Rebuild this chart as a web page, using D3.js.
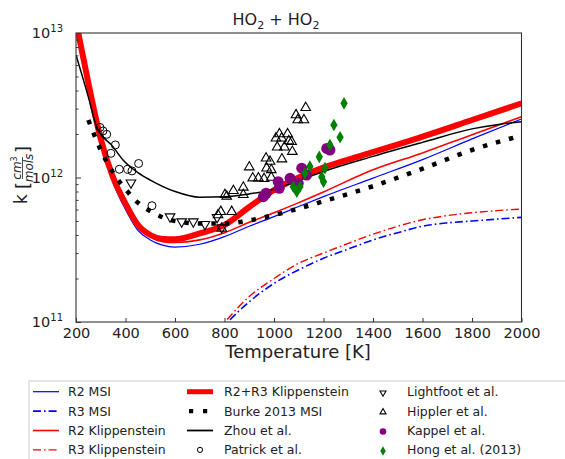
<!DOCTYPE html>
<html><head><meta charset="utf-8">
<script src="https://cdn.jsdelivr.net/npm/d3@7"></script>
<style>
body{margin:0;background:#fff}
svg{display:block}
text{font-family:"DejaVu Sans",sans-serif;fill:#222}
</style>
</head><body>
<svg id="c" width="565" height="459"></svg>
<script>
// ---------- data ----------
const xTickValues = [200,400,600,800,1000,1200,1400,1600,1800,2000];
const yMajorTicks = [1e11,1e12,1e13];
const yTickExponents = ["11","12","13"];

const r2msi = [[200,1.1e13],[250,4.3e12],[300,1.75e12],[350,9.2e11],[400,6.0e11],[450,4.3e11],[500,3.7e11],[550,3.4e11],[600,3.3e11],[700,3.45e11],[800,3.9e11],[900,4.6e11],[1000,5.36e11],[1100,6.3e11],[1200,7.37e11],[1400,9.9e11],[1600,1.33e12],[1800,1.85e12],[2000,2.54e12]];
const r3msi = [[780,8.6e10],[814,1.0e11],[900,1.38e11],[1000,1.85e11],[1100,2.3e11],[1200,2.76e11],[1300,3.2e11],[1400,3.7e11],[1500,4.15e11],[1600,4.6e11],[1700,4.85e11],[1800,5.0e11],[1900,5.15e11],[2000,5.3e11]];
const r2klip = [[200,1.1e13],[250,4.3e12],[300,1.8e12],[350,9.5e11],[400,6.3e11],[450,4.6e11],[500,3.9e11],[550,3.6e11],[600,3.55e11],[700,3.7e11],[800,4.15e11],[900,4.9e11],[1000,5.7e11],[1100,6.7e11],[1200,7.95e11],[1400,1.13e12],[1600,1.48e12],[1800,1.98e12],[2000,2.63e12]];
const r3klip = [[770,8.6e10],[802,1.0e11],[900,1.5e11],[1000,2.0e11],[1100,2.55e11],[1200,3.0e11],[1300,3.5e11],[1400,4.05e11],[1500,4.6e11],[1600,5.1e11],[1700,5.45e11],[1800,5.7e11],[1900,5.9e11],[2000,6.05e11]];
const r2r3klip = [[200,1.2e13],[250,4.5e12],[300,1.85e12],[350,1.0e12],[400,6.6e11],[450,4.7e11],[500,4.0e11],[550,3.76e11],[600,3.74e11],[700,4.1e11],[800,4.7e11],[900,6.25e11],[1000,8.2e11],[1100,1.0e12],[1200,1.17e12],[1300,1.33e12],[1400,1.5e12],[1600,1.92e12],[1800,2.5e12],[2000,3.26e12]];
const burke = [[250,2.5e12],[300,1.55e12],[350,1.08e12],[400,8.3e11],[450,6.7e11],[500,5.85e11],[600,5.0e11],[700,4.8e11],[800,4.8e11],[900,5.05e11],[1000,5.5e11],[1100,6.1e11],[1200,6.85e11],[1400,8.7e11],[1600,1.15e12],[1800,1.55e12],[2000,1.95e12]];
const zhou = [[200,7.05e12],[250,3.6e12],[283,2.25e12],[350,1.63e12],[390,1.32e12],[450,1.08e12],[500,9.6e11],[600,8.0e11],[700,7.3e11],[800,7.35e11],[900,7.7e11],[1000,8.3e11],[1100,9.5e11],[1200,1.1e12],[1400,1.4e12],[1600,1.75e12],[1800,2.17e12],[1900,2.32e12],[2000,2.43e12]];

const patrick = [[297,2.22e12],[309,2.1e12],[324,1.99e12],[341,1.47e12],[359,1.68e12],[375,1.14e12],[409,1.14e12],[426,1.11e12],[453,1.25e12],[507,6.38e11]];
const lightfoot = [[422,9.2e11],[580,5.36e11],[627,4.95e11],[674,4.95e11],[721,4.75e11],[770,5.3e11],[789,4.5e11]];
const hippler = [[1128,3.04e12],[1089,2.71e12],[1096,2.5e12],[1121,2.5e12],[1022,2.0e12],[1008,1.87e12],[1031,1.87e12],[1055,2.0e12],[1060,1.79e12],[1013,1.62e12],[1042,1.62e12],[1074,1.51e12],[1071,1.77e12],[1032,1.34e12],[968,1.36e12],[984,1.29e12],[970,1.16e12],[989,1.13e12],[900,1.18e12],[914,9.9e11],[937,9.9e11],[960,9.8e11],[989,1.0e12],[836,8.1e11],[802,7.6e11],[876,8.55e11],[876,7.6e11],[809,7.4e11],[785,5.8e11],[774,5.5e11],[829,5.8e11],[789,4.45e11]];
const kappel = [[957,7.37e11],[968,7.78e11],[1017,9.35e11],[1021,8.41e11],[1065,9.87e11],[1098,9.12e11],[1112,1.16e12],[1132,1.04e12],[1213,1.59e12],[1226,1.55e12]];
const hong = [[1283,3.26e12],[1242,2.31e12],[1267,1.9e12],[1226,1.68e12],[1183,1.39e12],[1145,1.19e12],[1206,1.16e12],[1193,1.01e12],[1200,9.35e11],[1125,1.07e12],[1078,8.63e11],[1105,8.63e11],[1092,7.98e11]];

const legendCol1 = ["R2 MSI","R3 MSI","R2 Klippenstein","R3 Klippenstein"];
const legendCol2 = ["R2+R3 Klippenstein","Burke 2013 MSI","Zhou et al.","Patrick et al."];
const legendCol3 = ["Lightfoot et al.","Hippler et al.","Kappel et al.","Hong et al. (2013)"];

// ---------- layout ----------
const L=76, R=521.5, T=33, B=322;
const svg = d3.select("#c");
const x = d3.scaleLinear().domain([200,2000]).range([L,R]);
const y = d3.scaleLog().domain([1e11,1e13]).range([B,T]);

svg.append("defs").append("clipPath").attr("id","clip")
  .append("rect").attr("x",L).attr("y",T).attr("width",R-L).attr("height",B-T);

const line = d3.line().x(d=>x(d[0])).y(d=>y(d[1])).curve(d3.curveMonotoneX);
const plot = svg.append("g").attr("clip-path","url(#clip)");

const styles = {
  r2msi:{stroke:"#0000ff",w:1.2,dash:null},
  r3msi:{stroke:"#0000ff",w:1.6,dash:"8,3,1.6,3"},
  r2klip:{stroke:"#ff0000",w:1.6,dash:null},
  r3klip:{stroke:"#ff0000",w:1.4,dash:"8,3,1.6,3"},
  r2r3:{stroke:"#ff0000",w:6,dash:null},
  burke:{stroke:"#000",w:4.5,dash:"4.5,9"},
  zhou:{stroke:"#000",w:1.5,dash:null}
};
function drawLine(data, st){
  plot.append("path").datum(data).attr("d",line).attr("fill","none")
    .attr("stroke",st.stroke).attr("stroke-width",st.w)
    .attr("stroke-dasharray",st.dash);
}
drawLine(r2msi,styles.r2msi);
drawLine(r3msi,styles.r3msi);
drawLine(r2klip,styles.r2klip);
drawLine(r3klip,styles.r3klip);
drawLine(r2r3klip,styles.r2r3);
drawLine(burke,styles.burke);
drawLine(zhou,styles.zhou);

// markers
const triUp = d3.symbol().type(d3.symbolTriangle).size(40)();
const diamond = d3.symbol().type(d3.symbolDiamond).size(46)();
plot.selectAll(".pat").data(patrick).join("circle")
  .attr("cx",d=>x(d[0])).attr("cy",d=>y(d[1])).attr("r",4)
  .attr("fill","none").attr("stroke","#000").attr("stroke-width",1);
plot.selectAll(".lf").data(lightfoot).join("path").attr("d",triUp)
  .attr("transform",d=>`translate(${x(d[0])},${y(d[1])}) rotate(180)`)
  .attr("fill","none").attr("stroke","#000").attr("stroke-width",1.1);
plot.selectAll(".hip").data(hippler).join("path").attr("d",triUp)
  .attr("transform",d=>`translate(${x(d[0])},${y(d[1])})`)
  .attr("fill","none").attr("stroke","#000").attr("stroke-width",1.1);
plot.selectAll(".kap").data(kappel).join("circle")
  .attr("cx",d=>x(d[0])).attr("cy",d=>y(d[1])).attr("r",5.5)
  .attr("fill","#800080");
plot.selectAll(".hong").data(hong).join("path").attr("d",diamond)
  .attr("transform",d=>`translate(${x(d[0])},${y(d[1])})`)
  .attr("fill","#008000");

// axes
const xAxis = d3.axisBottom(x).tickValues(xTickValues).tickFormat(d3.format("d"))
  .tickSizeInner(-4).tickSizeOuter(0).tickPadding(6);
const gx = svg.append("g").attr("transform",`translate(0,${B})`).call(xAxis);
gx.select(".domain").remove();
gx.selectAll("text").attr("font-size","14.5px").attr("font-family","DejaVu Sans").attr("fill","#222");
gx.selectAll("line").attr("stroke","#333");

const minorTicks=[];
[1e11,1e12].forEach(b=>{for(let i=2;i<=9;i++) minorTicks.push(b*i);});
const gyMinor = svg.append("g").attr("transform",`translate(${L},0)`)
  .call(d3.axisLeft(y).tickValues(minorTicks).tickSizeInner(-2.5).tickSizeOuter(0).tickFormat(()=>""));
gyMinor.select(".domain").remove();
gyMinor.selectAll("line").attr("stroke","#333");

const gy = svg.append("g").attr("transform",`translate(${L},0)`)
  .call(d3.axisLeft(y).tickValues(yMajorTicks).tickSizeInner(-5).tickSizeOuter(0).tickPadding(13).tickFormat(()=>""));
gy.select(".domain").remove();
gy.selectAll("line").attr("stroke","#333");
gy.selectAll(".tick text").each(function(d,i){
  const t = d3.select(this).attr("font-size","14.5px").attr("font-family","DejaVu Sans").attr("fill","#222").attr("dy","0.33em");
  t.text("10");
  t.append("tspan").attr("font-size","10px").attr("dy","-6").text(yTickExponents[i]);
});

// frame
svg.append("rect").attr("x",L).attr("y",T).attr("width",R-L).attr("height",B-T)
  .attr("fill","none").attr("stroke","#333").attr("stroke-width",1.1);

// title
const title = svg.append("text").attr("x",276).attr("y",25).attr("text-anchor","middle").attr("font-size","16px");
title.append("tspan").text("HO");
title.append("tspan").attr("font-size","11px").attr("dy","4").text("2");
title.append("tspan").attr("dy","-4").text(" + HO");
title.append("tspan").attr("font-size","11px").attr("dy","4").text("2");

// x label
svg.append("text").attr("x",298).attr("y",358).attr("text-anchor","middle").attr("font-size","18px").text("Temperature [K]");

// y label
const yl = svg.append("g").attr("transform","translate(27,177) rotate(-90)");
yl.append("text").attr("x",-27).attr("y",0).attr("font-size","17px").text("k");
yl.append("text").attr("x",-12).attr("y",1.5).attr("font-size","18px").text("[");
yl.append("text").attr("x",9).attr("y",-6.5).attr("text-anchor","middle").attr("font-size","12px").attr("font-style","italic")
  .call(t=>{t.append("tspan").text("cm"); t.append("tspan").attr("font-size","8px").attr("dy","-4").attr("font-style","normal").text("3");});
yl.append("line").attr("x1",-2).attr("x2",20).attr("y1",-4.5).attr("y2",-4.5).attr("stroke","#222").attr("stroke-width",0.8);
yl.append("text").attr("x",9).attr("y",5.5).attr("text-anchor","middle").attr("font-size","12px").attr("font-style","italic").text("mols");
yl.append("text").attr("x",24).attr("y",1.5).attr("font-size","18px").text("]");

// legend
const lg = svg.append("g");
lg.append("rect").attr("x",29).attr("y",381).attr("width",560).attr("height",100)
  .attr("fill","#fff").attr("stroke","#ccc").attr("stroke-width",1);
const rowY = i => 391.7 + i*19.4;
const col1Styles=[styles.r2msi,styles.r3msi,styles.r2klip,styles.r3klip];
legendCol1.forEach((lab,i)=>{
  const st=col1Styles[i];
  lg.append("line").attr("x1",33).attr("x2",59).attr("y1",rowY(i)).attr("y2",rowY(i))
    .attr("stroke",st.stroke).attr("stroke-width",st.w).attr("stroke-dasharray",st.dash);
  lg.append("text").attr("x",68).attr("y",rowY(i)+4.5).attr("font-size","12.5px").text(lab);
});
legendCol2.forEach((lab,i)=>{
  if(i===0) lg.append("line").attr("x1",187).attr("x2",213).attr("y1",rowY(i)).attr("y2",rowY(i)).attr("stroke","#ff0000").attr("stroke-width",5);
  if(i===1) lg.append("line").attr("x1",189).attr("x2",213).attr("y1",rowY(i)).attr("y2",rowY(i)).attr("stroke","#000").attr("stroke-width",4.2).attr("stroke-dasharray","4.2,9.8");
  if(i===2) lg.append("line").attr("x1",187).attr("x2",213).attr("y1",rowY(i)).attr("y2",rowY(i)).attr("stroke","#000").attr("stroke-width",1.8);
  if(i===3) lg.append("circle").attr("cx",200).attr("cy",rowY(i)).attr("r",2.6).attr("fill","none").attr("stroke","#000").attr("stroke-width",1);
  lg.append("text").attr("x",224).attr("y",rowY(i)+4.5).attr("font-size","12.5px").text(lab);
});
const smallTri = d3.symbol().type(d3.symbolTriangle).size(16)();
const smallDia = d3.symbol().type(d3.symbolDiamond).size(26)();
legendCol3.forEach((lab,i)=>{
  const cx=383, cy=rowY(i)+1;
  if(i===0) lg.append("path").attr("d",smallTri).attr("transform",`translate(${cx},${cy}) rotate(180)`).attr("fill","none").attr("stroke","#000").attr("stroke-width",1.1);
  if(i===1) lg.append("path").attr("d",smallTri).attr("transform",`translate(${cx},${cy})`).attr("fill","none").attr("stroke","#000").attr("stroke-width",1.1);
  if(i===2) lg.append("circle").attr("cx",cx).attr("cy",cy).attr("r",3.3).attr("fill","#800080");
  if(i===3) lg.append("path").attr("d",smallDia).attr("transform",`translate(${cx},${cy})`).attr("fill","#008000");
  lg.append("text").attr("x",407).attr("y",rowY(i)+4.5).attr("font-size","12.5px").text(lab);
});
</script>
</body></html>
